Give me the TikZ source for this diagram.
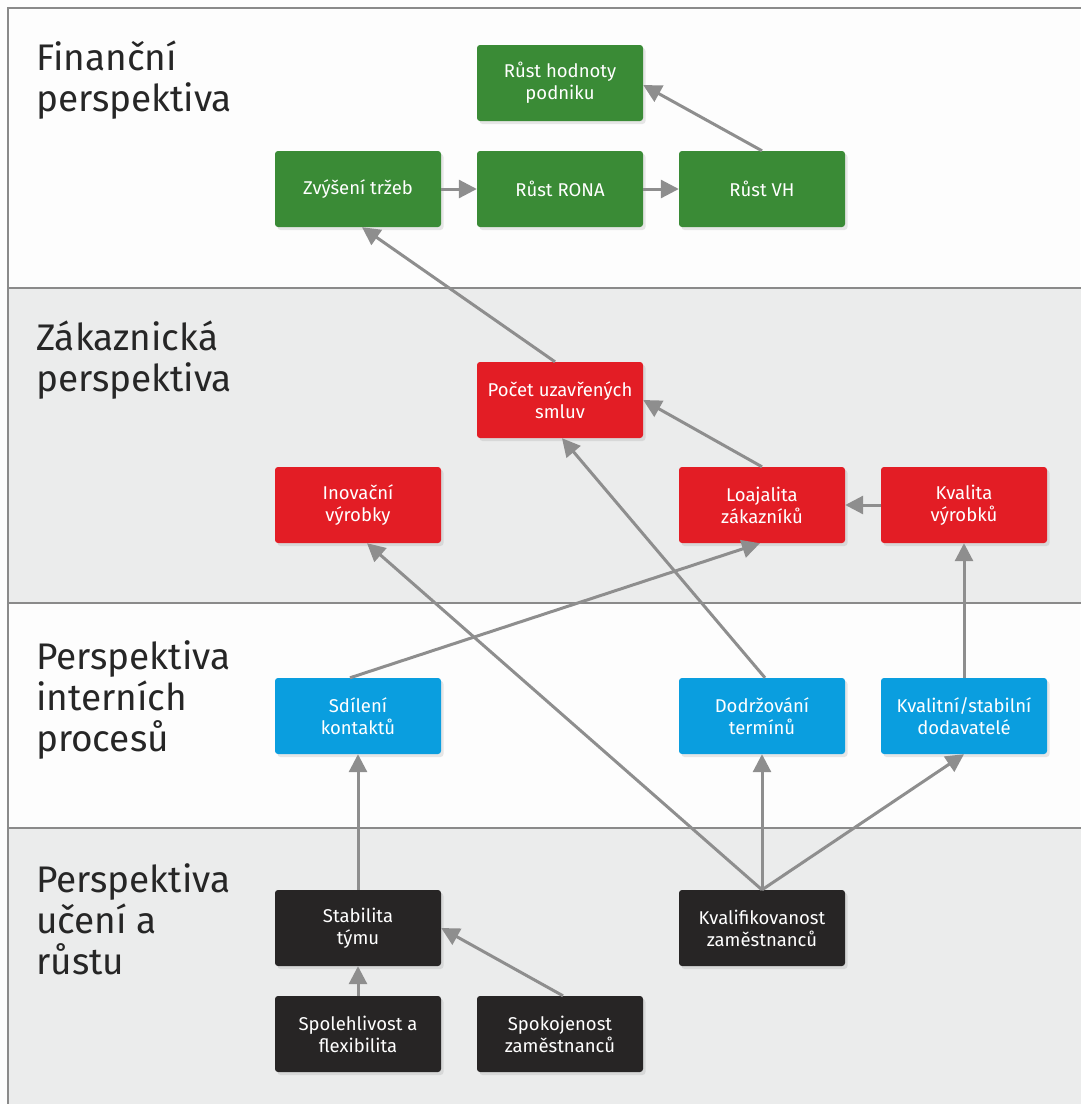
\documentclass[tikz,border=0pt]{standalone}
\usepackage{fontspec}
\setmainfont{Fira Sans}
\usetikzlibrary{arrows.meta,shadows}
\definecolor{fgreen}{HTML}{3A8B36}
\definecolor{cred}{HTML}{E31D25}
\definecolor{iblue}{HTML}{0A9EDF}
\definecolor{lblack}{HTML}{272525}
\definecolor{bandgray}{HTML}{EBECEC}
\definecolor{bandwhite}{HTML}{FDFDFD}
\definecolor{linegray}{HTML}{8A8A8A}
\definecolor{arrgray}{HTML}{8E8E8E}
\definecolor{titlec}{HTML}{262626}
\begin{document}
\begin{tikzpicture}[x=1pt,y=-1pt,
  box/.style={rectangle, rounded corners=3pt, minimum width=166pt, minimum height=76pt,
    inner sep=0pt, align=center, text=white, font=\fontsize{18.5}{22}\selectfont,
    drop shadow={opacity=0.18, shadow xshift=2.5pt, shadow yshift=-3pt}},
  finbox/.style={box, fill=fgreen},
  custbox/.style={box, fill=cred},
  procbox/.style={box, fill=iblue},
  learnbox/.style={box, fill=lblack},
  title/.style={anchor=base west, align=left, inner sep=0pt, text=titlec,
    font=\fontsize{37}{41}\selectfont},
  arr/.style={draw=arrgray, line width=3pt, -{Triangle[length=18pt,width=18pt]}},
  band/.style={draw=linegray, line width=1.3pt}
]
\useasboundingbox (0,0) rectangle (1080,1104);
\fill[bandwhite] (0,0) rectangle (1080,1104);
\fill[bandgray] (8,288) rectangle (1082,603);
\fill[bandgray] (8,828) rectangle (1082,1106);
\draw[band] (1082,8) -- (8,8) -- (8,1106);
\draw[band] (8,288) -- (1082,288);
\draw[band] (8,603) -- (1082,603);
\draw[band] (8,828) -- (1082,828);

% titles (anchor at baseline of last line)
\node[title] (t1) at (36,111) {Finanční\\perspektiva};
\node[title] (t2) at (36,391) {Zákaznická\\perspektiva};
\node[title] (t3) at (36,751) {Perspektiva\\interních\\procesů};
\node[title] (t4) at (36,974) {Perspektiva\\učení a\\růstu};

% boxes
\node[finbox] (hod) at (560,83) {Růst hodnoty\\podniku};
\node[finbox] (trz) at (358,189) {Zvýšení tržeb};
\node[finbox] (rona) at (560,189) {Růst RONA};
\node[finbox] (vh) at (762,189) {Růst VH};

\node[custbox] (poc) at (560,400) {Počet uzavřených\\smluv};
\node[custbox] (ino) at (358,505) {Inovační\\výrobky};
\node[custbox] (loa) at (762,505) {Loajalita\\zákazníků};
\node[custbox] (kva) at (964,505) {Kvalita\\výrobků};

\node[procbox] (sdi) at (358,716) {Sdílení\\kontaktů};
\node[procbox] (dod) at (762,716) {Dodržování\\termínů};
\node[procbox] (dodav) at (964,716) {Kvalitní/stabilní\\dodavatelé};

\node[learnbox] (stab) at (358,928) {Stabilita\\týmu};
\node[learnbox] (kvalif) at (762,928) {Kvalifikovanost\\zaměstnanců};
\node[learnbox] (spol) at (358,1034) {Spolehlivost a\\flexibilita};
\node[learnbox] (spok) at (560,1034) {Spokojenost\\zaměstnanců};

% arrows
\draw[arr] (trz.east) -- (rona.west);
\draw[arr] (rona.east) -- (vh.west);
\draw[arr] (vh.north) -- ([yshift=-2pt]hod.east);
\draw[arr] ([xshift=-5pt]poc.north) -- ([xshift=4pt]trz.south);
\draw[arr] (loa.north) -- (poc.east);
\draw[arr] (kva.west) -- (loa.east);
\draw[arr] ([xshift=-8pt]sdi.north) -- ([xshift=-2pt]loa.south);
\draw[arr] ([xshift=3pt]dod.north) -- ([xshift=2pt]poc.south);
\draw[arr] (dodav.north) -- (kva.south);
\draw[arr] (kvalif.north) -- ([xshift=9pt]ino.south);
\draw[arr] (kvalif.north) -- (dod.south);
\draw[arr] (kvalif.north) -- (dodav.south);
\draw[arr] (stab.north) -- (sdi.south);
\draw[arr] (spol.north) -- (stab.south);
\draw[arr] ([xshift=3pt]spok.north) -- (stab.east);
\end{tikzpicture}
\end{document}
